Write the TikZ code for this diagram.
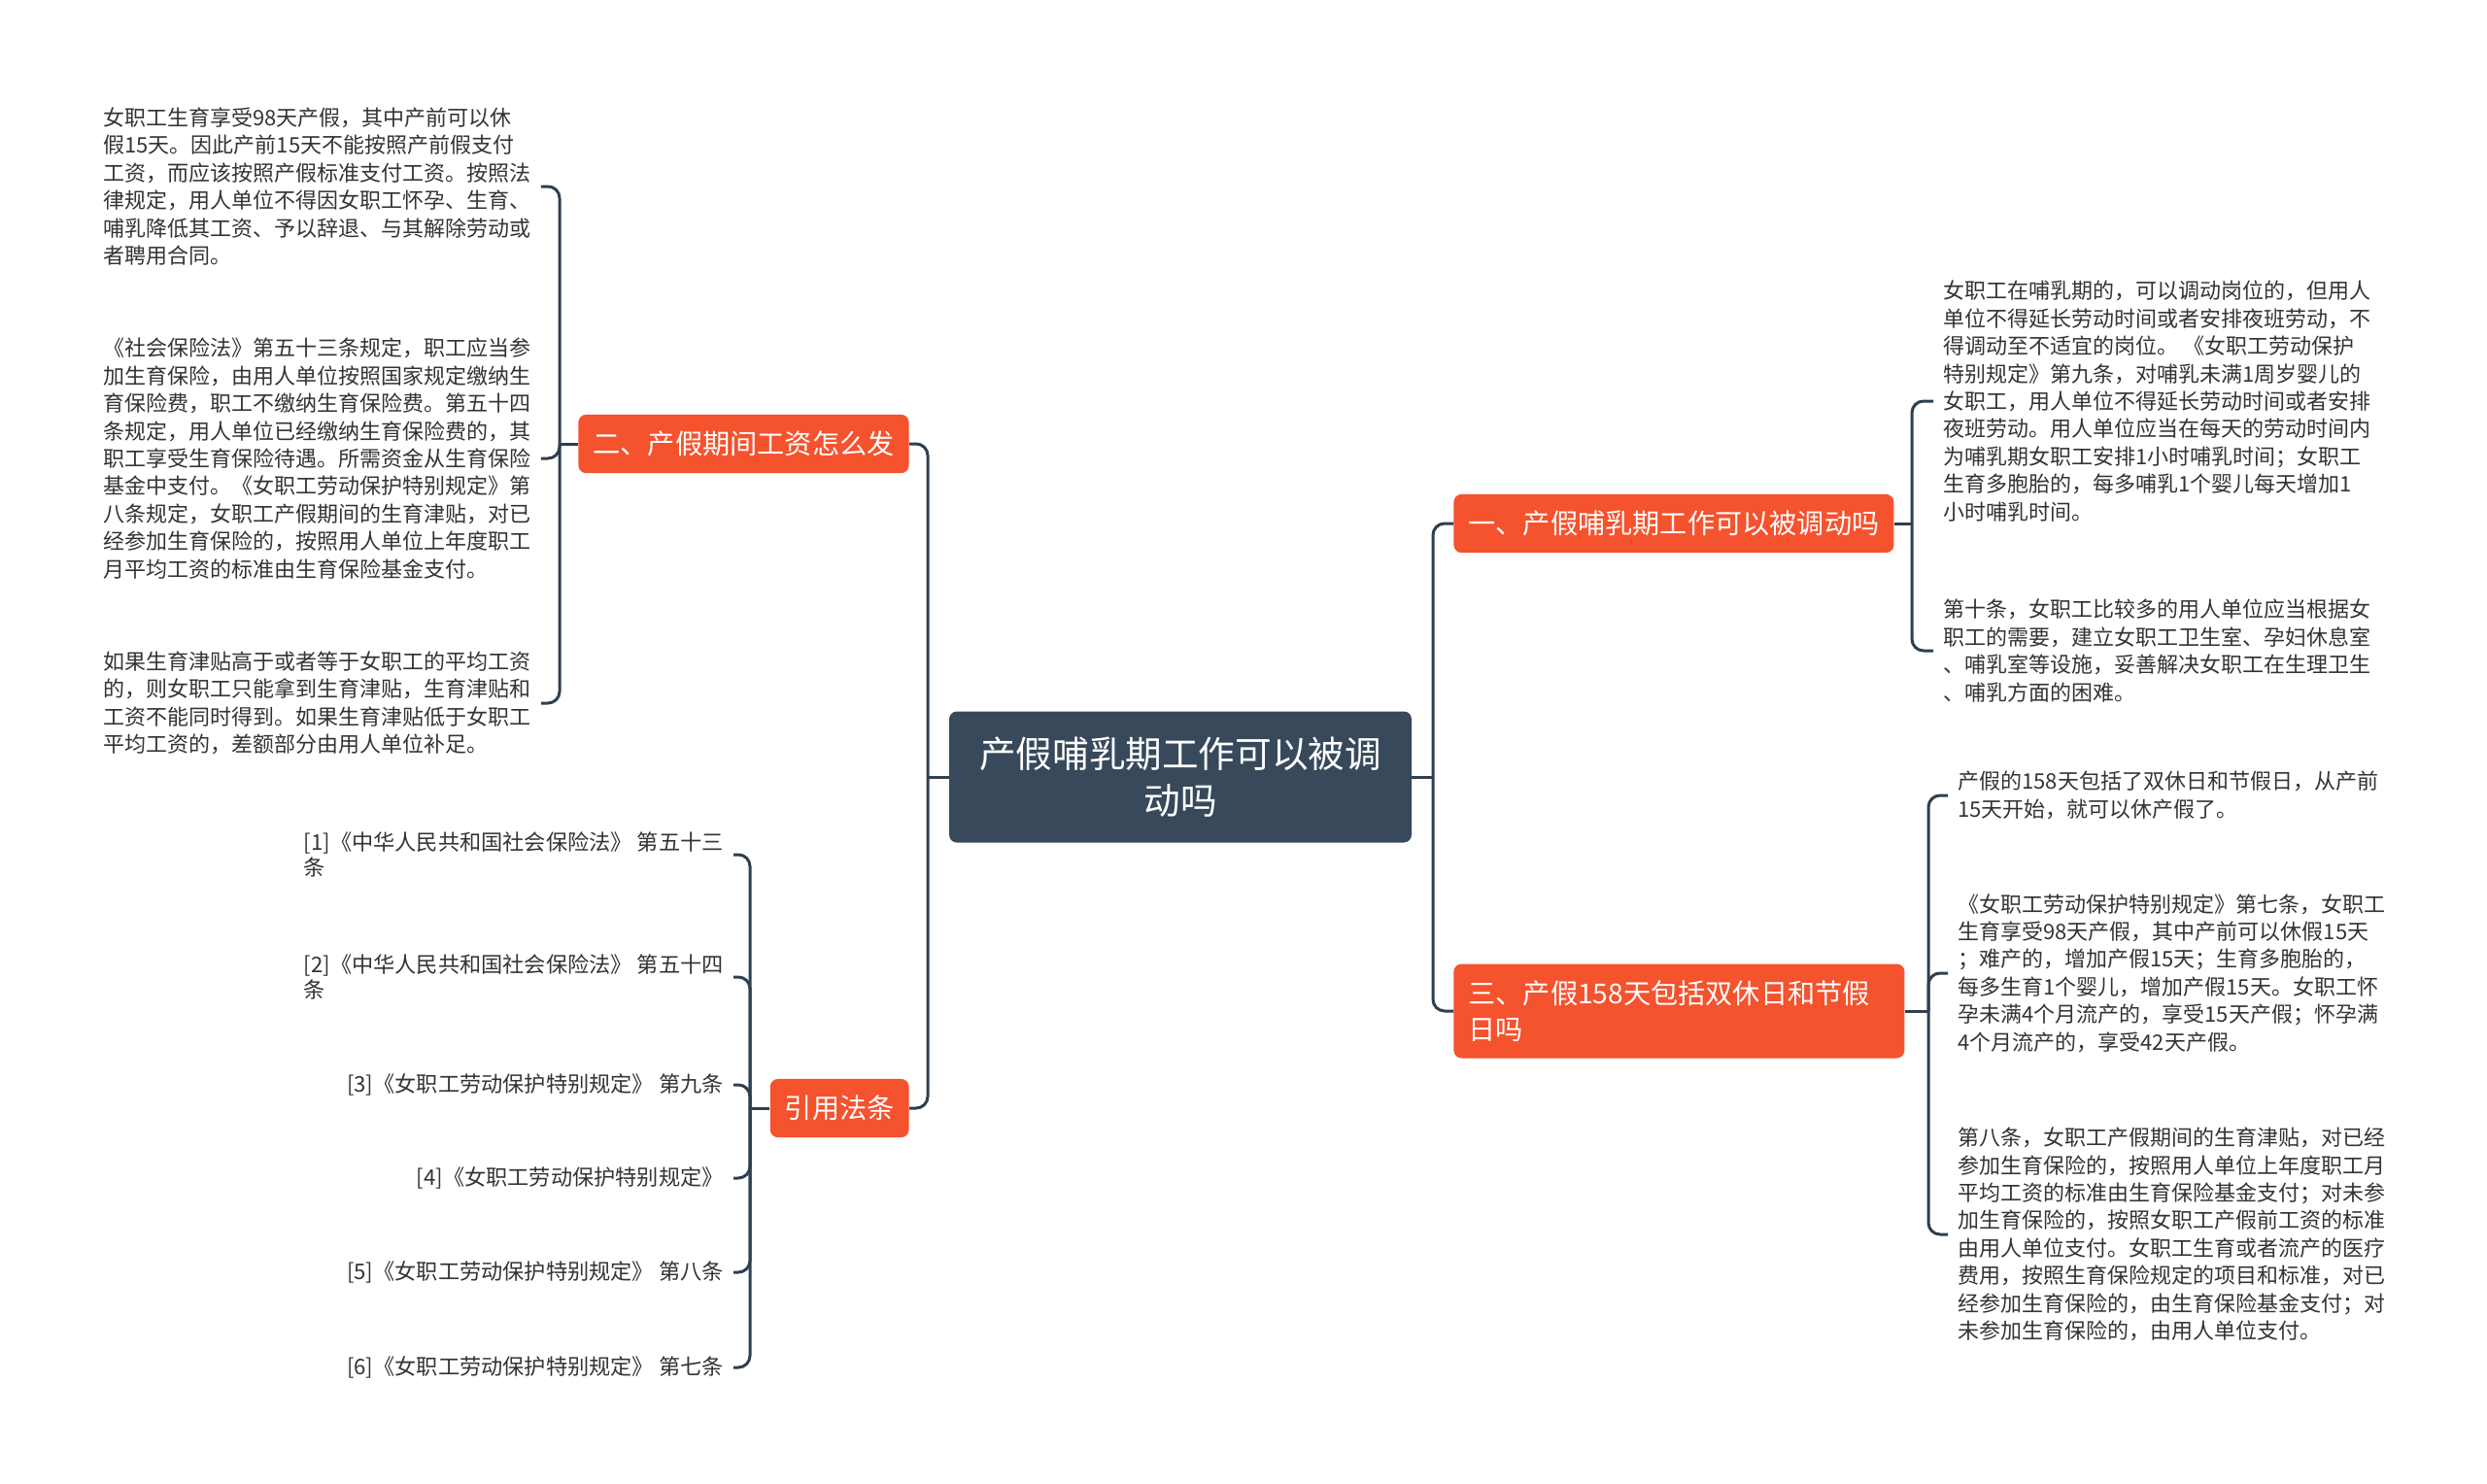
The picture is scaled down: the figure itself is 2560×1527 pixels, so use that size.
\documentclass[tikz,border=0pt]{standalone}
\usepackage{fontspec}
\usepackage{tikz}
\usepackage{xcolor}
\usetikzlibrary{positioning}
\setmainfont{Noto Sans CJK SC}
\definecolor{MapDark}{HTML}{37495A}
\definecolor{MapOrange}{HTML}{F5522E}
\definecolor{MapLine}{HTML}{2E3F4F}
\definecolor{MapText}{HTML}{333333}
\tikzset{
  mmroot/.style={fill=MapDark, text=white, rounded corners=4pt, align=center, minimum width=238pt, minimum height=67.5pt, inner sep=0pt, font=\fontsize{18.8pt}{24pt}\selectfont},
  mmbranch/.style={fill=MapOrange, text=white, rounded corners=4pt, align=left, inner xsep=7.5pt, inner ysep=8.5pt, font=\fontsize{14.1pt}{18.5pt}\selectfont},
  mmleaf/.style={text=MapText, align=left, inner xsep=5pt, inner ysep=0pt, font=\fontsize{11pt}{14.2pt}\selectfont},
  mmcite/.style={text=MapText, align=left, inner xsep=5pt, inner ysep=0pt, font=\fontsize{11.1pt}{13.4pt}\selectfont},
  mmlink/.style={draw=MapLine, line width=1.5pt, rounded corners=6pt}
}
\begin{document}
\begin{tikzpicture}[x=0.5pt, y=-0.5pt]
  \useasboundingbox (0,0) rectangle (2560,1527);
  \node[mmroot] (root) at (1215,800) {产假哺乳期工作可以被调\\动吗};
  \node[mmbranch, anchor=east] (pay) at (936,457) {二、产假期间工资怎么发};
  \node[mmbranch, anchor=east] (cite) at (936,1141) {引用法条};
  \node[mmbranch, anchor=west] (move) at (1496,539) {一、产假哺乳期工作可以被调动吗};
  \node[mmbranch, anchor=west, text width=217pt] (days) at (1496,1041) {三、产假158天包括双休日和节假\\日吗};
  \coordinate (lt) at (955,800);
  \coordinate (rt) at (1475,800);
  \draw[mmlink] (root.west) -- (lt);
  \draw[mmlink] (lt) |- (pay.east);
  \draw[mmlink] (lt) |- (cite.east);
  \draw[mmlink] (root.east) -- (rt);
  \draw[mmlink] (rt) |- (move.west);
  \draw[mmlink] (rt) |- (days.west);

  \node[mmleaf, anchor=west] (pay1) at (96,192) {女职工生育享受98天产假，其中产前可以休\\假15天。因此产前15天不能按照产前假支付\\工资，而应该按照产假标准支付工资。按照法\\律规定，用人单位不得因女职工怀孕、生育、\\哺乳降低其工资、予以辞退、与其解除劳动或\\者聘用合同。};
  \node[mmleaf, anchor=west] (pay2) at (96,472) {《社会保险法》第五十三条规定，职工应当参\\加生育保险，由用人单位按照国家规定缴纳生\\育保险费，职工不缴纳生育保险费。第五十四\\条规定，用人单位已经缴纳生育保险费的，其\\职工享受生育保险待遇。所需资金从生育保险\\基金中支付。《女职工劳动保护特别规定》第\\八条规定，女职工产假期间的生育津贴，对已\\经参加生育保险的，按照用人单位上年度职工\\月平均工资的标准由生育保险基金支付。};
  \node[mmleaf, anchor=west] (pay3) at (96,724) {如果生育津贴高于或者等于女职工的平均工资\\的，则女职工只能拿到生育津贴，生育津贴和\\工资不能同时得到。如果生育津贴低于女职工\\平均工资的，差额部分由用人单位补足。};
  \coordinate (payspine) at (576,457);
  \draw[mmlink] (pay.west) -- (payspine);
  \draw[mmlink] (payspine) |- (pay1.east);
  \draw[mmlink] (payspine) |- (pay2.east);
  \draw[mmlink] (payspine) |- (pay3.east);

  \node[mmcite, anchor=east] (cite1) at (755,880) {[1]《中华人民共和国社会保险法》 第五十三\\条};
  \node[mmcite, anchor=east] (cite2) at (755,1006) {[2]《中华人民共和国社会保险法》 第五十四\\条};
  \node[mmcite, anchor=east] (cite3) at (755,1117) {[3]《女职工劳动保护特别规定》 第九条};
  \node[mmcite, anchor=east] (cite4) at (755,1213) {[4]《女职工劳动保护特别规定》};
  \node[mmcite, anchor=east] (cite5) at (755,1310) {[5]《女职工劳动保护特别规定》 第八条};
  \node[mmcite, anchor=east] (cite6) at (755,1408) {[6]《女职工劳动保护特别规定》 第七条};
  \coordinate (citespine) at (772,1141);
  \draw[mmlink] (cite.west) -- (citespine);
  \draw[mmlink] (citespine) |- (cite1.east);
  \draw[mmlink] (citespine) |- (cite2.east);
  \draw[mmlink] (citespine) |- (cite3.east);
  \draw[mmlink] (citespine) |- (cite4.east);
  \draw[mmlink] (citespine) |- (cite5.east);
  \draw[mmlink] (citespine) |- (cite6.east);

  \node[mmleaf, anchor=west] (move1) at (1990,413) {女职工在哺乳期的，可以调动岗位的，但用人\\单位不得延长劳动时间或者安排夜班劳动，不\\得调动至不适宜的岗位。\ 《女职工劳动保护\\特别规定》第九条，对哺乳未满1周岁婴儿的\\女职工，用人单位不得延长劳动时间或者安排\\夜班劳动。用人单位应当在每天的劳动时间内\\为哺乳期女职工安排1小时哺乳时间；女职工\\生育多胞胎的，每多哺乳1个婴儿每天增加1\\小时哺乳时间。};
  \node[mmleaf, anchor=west] (move2) at (1990,670) {第十条，女职工比较多的用人单位应当根据女\\职工的需要，建立女职工卫生室、孕妇休息室\\、哺乳室等设施，妥善解决女职工在生理卫生\\、哺乳方面的困难。};
  \coordinate (movespine) at (1968,539);
  \draw[mmlink] (move.east) -- (movespine);
  \draw[mmlink] (movespine) |- (move1.west);
  \draw[mmlink] (movespine) |- (move2.west);

  \node[mmleaf, anchor=west] (days1) at (2005,819) {产假的158天包括了双休日和节假日，从产前\\15天开始，就可以休产假了。};
  \node[mmleaf, anchor=west] (days2) at (2005,1002) {《女职工劳动保护特别规定》第七条，女职工\\生育享受98天产假，其中产前可以休假15天\\；难产的，增加产假15天；生育多胞胎的，\\每多生育1个婴儿，增加产假15天。女职工怀\\孕未满4个月流产的，享受15天产假；怀孕满\\4个月流产的，享受42天产假。};
  \node[mmleaf, anchor=west] (days3) at (2005,1271) {第八条，女职工产假期间的生育津贴，对已经\\参加生育保险的，按照用人单位上年度职工月\\平均工资的标准由生育保险基金支付；对未参\\加生育保险的，按照女职工产假前工资的标准\\由用人单位支付。女职工生育或者流产的医疗\\费用，按照生育保险规定的项目和标准，对已\\经参加生育保险的，由生育保险基金支付；对\\未参加生育保险的，由用人单位支付。};
  \coordinate (daysspine) at (1985,1041);
  \draw[mmlink] (days.east) -- (daysspine);
  \draw[mmlink] (daysspine) |- (days1.west);
  \draw[mmlink] (daysspine) |- (days2.west);
  \draw[mmlink] (daysspine) |- (days3.west);
\end{tikzpicture}
\end{document}
